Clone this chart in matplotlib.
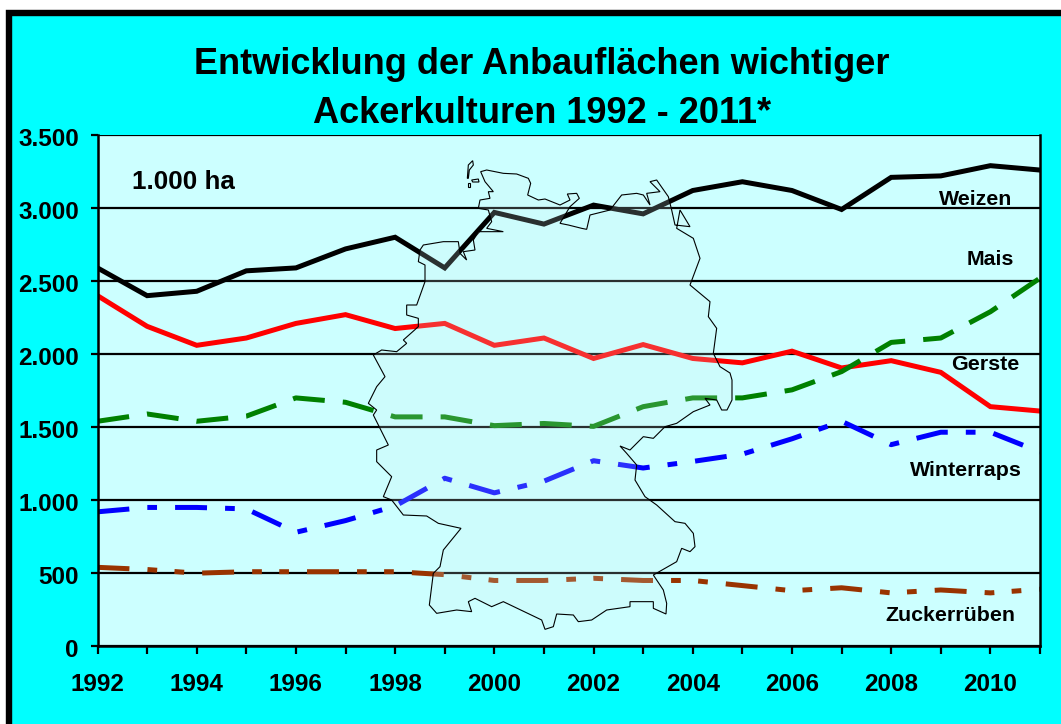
# Entwicklung der Anbauflaechen - line chart with the map of Germany on top
import numpy as np
import matplotlib
matplotlib.use('Agg')
import matplotlib.pyplot as plt
from matplotlib.patches import Rectangle, Polygon
from matplotlib.ticker import FuncFormatter
from matplotlib.transforms import ScaledTranslation

plt.rcParams['font.family'] = ['Liberation Sans', 'DejaVu Sans']
plt.rcParams['font.weight'] = 'bold'
plt.rcParams['lines.scale_dashes'] = False

# Data - 1.000 ha
years = list(range(1992, 2012))
weizen = [2590, 2400, 2430, 2570, 2590, 2720, 2800, 2590, 2970, 2890,
          3020, 2960, 3120, 3180, 3120, 2990, 3210, 3220, 3290, 3260]
gerste = [2400, 2190, 2060, 2110, 2210, 2270, 2175, 2210, 2060, 2110,
          1970, 2065, 1970, 1940, 2020, 1905, 1955, 1875, 1640, 1610]
mais = [1540, 1590, 1540, 1575, 1700, 1670, 1570, 1570, 1510, 1525,
        1505, 1640, 1700, 1700, 1755, 1880, 2080, 2110, 2290, 2520]
winterraps = [920, 950, 950, 940, 780, 860, 960, 1150, 1050, 1130,
              1270, 1220, 1265, 1315, 1420, 1540, 1380, 1465, 1465, 1330]
zuckerrueben = [540, 525, 500, 510, 510, 510, 510, 490, 450, 450,
                465, 450, 450, 415, 380, 400, 365, 385, 365, 390]

title_lines = ['Entwicklung der Anbauflächen wichtiger', 'Ackerkulturen 1992 - 2011*']
y_ticks = [0, 500, 1000, 1500, 2000, 2500, 3000, 3500]
x_ticks = list(range(1992, 2011, 2))

# Outline of the map, traced on the picture (north coast, east + south, west coast)
coast_north = [(362, 65), (380, 60), (430, 70), (470, 72), (505, 85), (512, 100), (503, 135),
               (535, 150), (555, 147), (600, 165), (630, 150), (622, 132), (650, 130), (658, 145),
               (630, 170), (600, 220), (625, 225), (665, 235), (680, 238), (690, 195), (750, 180),
               (785, 135), (830, 130), (850, 135), (870, 165), (860, 130), (900, 125), (870, 95),
               (890, 90), (925, 140), (935, 180), (945, 225), (990, 230), (960, 180), (950, 235),
               (1000, 265), (1020, 325), (990, 405), (1050, 455), (1045, 500), (1070, 535),
               (1060, 610), (1080, 650), (1110, 669), (1116, 690)]
border_south = [(1116, 30), (1101, 60), (1085, 60), (1070, 30), (1035, 25), (1050, 45), (1000, 65), (950, 100),
                (915, 110), (880, 145), (850, 140), (810, 180), (780, 168), (800, 190), (830, 225),
                (825, 270), (855, 320), (890, 345), (945, 395), (975, 400), (1000, 430), (1005, 470),
                (990, 485), (965, 475), (950, 515), (880, 555), (910, 600), (920, 640), (918, 672),
                (880, 655), (880, 635), (810, 635), (810, 650), (740, 660), (695, 690), (655, 695),
                (640, 675), (590, 672), (580, 710), (555, 718), (545, 690), (430, 635), (395, 650),
                (345, 625), (325, 635), (335, 665), (290, 660), (230, 670), (208, 645), (220, 550),
                (240, 530), (250, 480), (303, 415), (235, 400), (200, 378), (130, 375), (95, 330),
                (70, 320), (95, 260), (50, 215), (50, 180), (85, 165), (65, 125), (40, 75),
                (50, 60), (25, 40)]
border_west = [(50, 710), (75, 680), (40, 615), (65, 600), (110, 605), (140, 580), (130, 570),
               (175, 530), (175, 505), (140, 495), (140, 465), (170, 465), (195, 395), (195, 345),
               (175, 335), (180, 300), (190, 285), (250, 275), (295, 275), (300, 310), (320, 330),
               (310, 305), (345, 300), (340, 270), (355, 245), (430, 245), (380, 235), (395, 215),
               (385, 180), (355, 175), (360, 150), (390, 145), (385, 125), (400, 125), (375, 95)]
island_sylt = [(322, 85), (325, 45), (338, 32), (340, 45), (328, 60), (325, 85)]
island_foehr = [(335, 90), (355, 87), (357, 96), (338, 96)]
island_amrum = [(324, 100), (330, 100), (330, 111), (324, 111)]


def crop_to_px(points, x0, y0):
    # the points were read on 3x crops starting at x0, y0
    return [(x0 + x / 3.0, y0 + y / 3.0) for x, y in points]


W, H = 1061, 724
fig = plt.figure(figsize=(W / 100, H / 100), dpi=100, facecolor='white')

# Frame, right and bottom edge run out of the picture
frame = fig.add_axes([0, 0, 1, 1], zorder=0)
frame.set_xlim(0, W)
frame.set_ylim(H, 0)
frame.axis('off')
frame.add_patch(Rectangle((9, 13), W + 40, H + 40, facecolor='#00FFFF', edgecolor='black', linewidth=4.6))

# Plot area
left, right, top, bottom = 97.5, 1040, 135, 646.2
ax = fig.add_axes([left / W, 1 - bottom / H, (right - left) / W, (bottom - top) / H], zorder=1)
ax.set_facecolor('#CCFFFF')
ax.set_xlim(1992, 2011)
ax.set_ylim(0, 3500)

ax.yaxis.grid(True, color='black', linewidth=1.6)
ax.set_axisbelow(True)

lw = 3.6
ax.plot(years, weizen, color='black', linewidth=lw, solid_joinstyle='miter')
ax.plot(years, gerste, color='#FF0000', linewidth=lw, solid_joinstyle='miter')
ax.plot(years, mais, color='#008000', linewidth=lw, linestyle=(0, (23, 13)), dash_capstyle='butt')
ax.plot(years, winterraps, color='#0000FF', linewidth=lw, linestyle=(0, (23, 13, 7, 13)), dash_capstyle='butt')
ax.plot(years, zuckerrueben, color='#993300', linewidth=lw,
        linestyle=(0, (23, 13, 7, 12.5, 7, 13)), dash_capstyle='butt')

# Axes
for spine in ax.spines.values():
    spine.set_linewidth(1.8)
ax.spines['top'].set_visible(False)
ax.spines['right'].set_visible(True)
ax.set_yticks(y_ticks)
ax.yaxis.set_major_formatter(FuncFormatter(lambda v, p: f'{int(v):,}'.replace(',', '.')))
ax.set_xticks(x_ticks)
ax.set_xticks(years, minor=True)
ax.tick_params(axis='y', which='major', length=5.4, width=1.6, labelsize=17.5, pad=8)
ax.tick_params(axis='x', which='major', length=5.4, width=1.6, labelsize=17.5, pad=14)
ax.tick_params(axis='x', which='minor', length=5.4, width=1.6)

# y labels sit a little under their ticks
for label in ax.get_yticklabels():
    label.set_transform(label.get_transform() + ScaledTranslation(0, -1.5 / 72, fig.dpi_scale_trans))

# Labels
ax.text(1993.74, 3178, '1.000 ha', fontsize=18.7, ha='center', va='center')
ax.text(2009.7, 3060, 'Weizen', fontsize=15.4, ha='center', va='center')
ax.text(2010.0, 2649, 'Mais', fontsize=15.4, ha='center', va='center')
ax.text(2009.9, 1928, 'Gerste', fontsize=15.4, ha='center', va='center')
ax.text(2009.5, 1200, 'Winterraps', fontsize=15.4, ha='center', va='center')
ax.text(2009.2, 213, 'Zuckerrüben', fontsize=15.4, ha='center', va='center')

# Title
fig.text(542 / W, 1 - 74 / H, title_lines[0], fontsize=26, ha='center', va='baseline')
fig.text(542 / W, 1 - 123 / H, title_lines[1], fontsize=26, ha='center', va='baseline')

# Map on top of the lines, the fill washes them out a bit
overlay = fig.add_axes([0, 0, 1, 1], zorder=2)
overlay.set_xlim(0, W)
overlay.set_ylim(H, 0)
overlay.axis('off')
outline = crop_to_px(coast_north, 360, 150) + crop_to_px(border_south, 360, 390) + crop_to_px(border_west, 360, 150)
overlay.add_patch(Polygon(outline, closed=True, facecolor=(0.83, 0.95, 0.95, 0.2), edgecolor='none'))
overlay.add_patch(Polygon(outline, closed=True, facecolor='none', edgecolor='black', linewidth=0.8))
for island in (island_sylt, island_foehr, island_amrum):
    overlay.add_patch(Polygon(crop_to_px(island, 360, 150), closed=True, facecolor='none',
                              edgecolor='black', linewidth=0.8))

fig.savefig('out.png', dpi=100)
plt.close()
